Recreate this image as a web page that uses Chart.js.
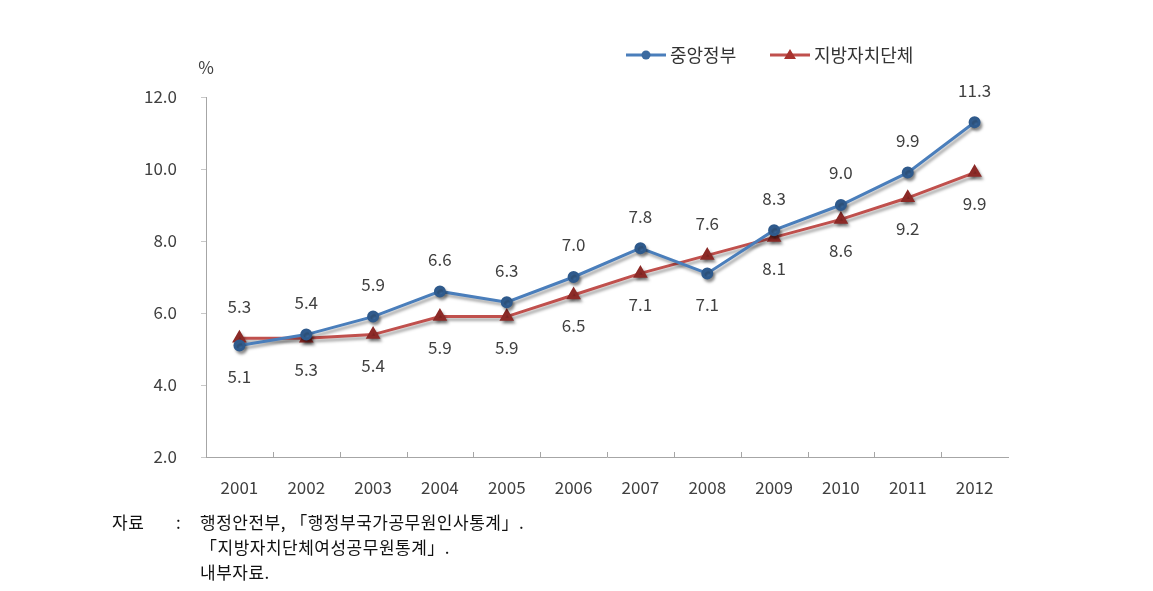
<!DOCTYPE html>
<html>
<head>
<meta charset="utf-8">
<script src="https://cdn.jsdelivr.net/npm/chart.js@4"></script>
<style>
  body { margin: 0; background: #fff; }
  #wrap { position: relative; width: 1153px; height: 591px; }
  #grafica { position: absolute; left: 0; top: 0; }
  .nota { position: absolute; font-family: "Noto Sans CJK KR", sans-serif; font-size: 17px; color: #111; line-height: 25px; letter-spacing: 0.5px; }
</style>
</head>
<body>
<div id="wrap">
  <canvas id="grafica" width="1153" height="591"></canvas>
  <div class="nota" style="left:112px; top:509px;">자료</div>
  <div class="nota" style="left:176px; top:509px;">:</div>
  <div class="nota" style="left:200px; top:509px;">행정안전부, 「행정부국가공무원인사통계」.<br>「지방자치단체여성공무원통계」.<br>내부자료.</div>
</div>
<script>
// datos del gráfico
const anios = ['2001', '2002', '2003', '2004', '2005', '2006', '2007', '2008', '2009', '2010', '2011', '2012'];
const centralGov = [5.1, 5.4, 5.9, 6.6, 6.3, 7.0, 7.8, 7.1, 8.3, 9.0, 9.9, 11.3];
const localGov = [5.3, 5.3, 5.4, 5.9, 5.9, 6.5, 7.1, 7.6, 8.1, 8.6, 9.2, 9.9];
// posición de la etiqueta: true = arriba
const centralArriba = [false, true, true, true, true, true, true, false, true, true, true, true];
const localArriba = [true, false, false, false, false, false, false, true, false, false, false, false];
const yTicks = [2, 4, 6, 8, 10, 12];

const fuente = '"Noto Sans CJK KR", "Noto Sans", sans-serif';

// sombra de las líneas
const sombra = {
    id: 'sombra',
    beforeDatasetsDraw(chart) {
        const ctx = chart.ctx;
        ctx.save();
        ctx.shadowColor = 'rgba(0,0,0,0.35)';
        ctx.shadowBlur = 3;
        ctx.shadowOffsetX = 2;
        ctx.shadowOffsetY = 3;
    },
    afterDatasetsDraw(chart) {
        chart.ctx.restore();
    }
};

// etiquetas, leyenda, "%" y marcas del eje x
const extras = {
    id: 'extras',
    afterDraw(chart) {
        const ctx = chart.ctx;
        const x = chart.scales.x;
        const y = chart.scales.y;
        ctx.save();

        // marcas del eje x hacia dentro
        ctx.strokeStyle = '#a6a6a6';
        ctx.lineWidth = 1;
        for (let i = 1; i < anios.length; i++) {
            const px = Math.round((x.getPixelForValue(i - 1) + x.getPixelForValue(i)) / 2) + 0.5;
            ctx.beginPath();
            ctx.moveTo(px, y.bottom);
            ctx.lineTo(px, y.bottom - 5);
            ctx.stroke();
        }

        // etiquetas de datos
        ctx.font = '17px ' + fuente;
        ctx.fillStyle = '#404040';
        ctx.textAlign = 'center';
        ctx.textBaseline = 'middle';
        const series = [[centralGov, centralArriba], [localGov, localArriba]];
        series.forEach(([vals, arriba]) => {
            vals.forEach((v, i) => {
                const px = x.getPixelForValue(i);
                const py = y.getPixelForValue(v);
                ctx.fillText(v.toFixed(1), px, arriba[i] ? py - 32 : py + 31);
            });
        });

        // "%"
        ctx.fillText('%', y.right, 68);

        // leyenda
        const items = [
            { text: '중앙정부', ds: chart.data.datasets[0], x0: 626 },
            { text: '지방자치단체', ds: chart.data.datasets[1], x0: 770 }
        ];
        const ly = 55;
        items.forEach(it => {
            ctx.strokeStyle = it.ds.borderColor;
            ctx.lineWidth = 3;
            ctx.beginPath();
            ctx.moveTo(it.x0, ly);
            ctx.lineTo(it.x0 + 40, ly);
            ctx.stroke();
            ctx.fillStyle = it.ds.pointBackgroundColor;
            ctx.beginPath();
            if (it.ds.pointStyle === 'triangle') {
                ctx.moveTo(it.x0 + 20, ly - 6);
                ctx.lineTo(it.x0 + 26, ly + 4);
                ctx.lineTo(it.x0 + 14, ly + 4);
                ctx.closePath();
            } else {
                ctx.arc(it.x0 + 20, ly, 4.5, 0, Math.PI * 2);
            }
            ctx.fill();
            ctx.fillStyle = '#333';
            ctx.textAlign = 'left';
            ctx.font = '18px ' + fuente;
            ctx.fillText(it.text, it.x0 + 44, ly);
        });
        ctx.restore();
    }
};

const ctx = document.getElementById('grafica').getContext('2d');
const miGrafica = new Chart(ctx, {
    type: 'line',
    data: {
        labels: anios,
        datasets: [{
            label: '중앙정부',
            data: centralGov,
            borderColor: '#4a7ebb',
            backgroundColor: '#4a7ebb',
            pointBackgroundColor: '#3b6aa0',
            pointBorderColor: '#2f5a8c',
            pointStyle: 'circle',
            pointRadius: 4.5,
            borderWidth: 3,
            tension: 0
        }, {
            label: '지방자치단체',
            data: localGov,
            borderColor: '#c0504d',
            backgroundColor: '#c0504d',
            pointBackgroundColor: '#a8332f',
            pointBorderColor: '#8c2a27',
            pointStyle: 'triangle',
            pointRadius: 5.5,
            borderWidth: 3,
            tension: 0
        }]
    },
    options: {
        responsive: false,
        animation: false,
        layout: { padding: { left: 100, right: 145, top: 97, bottom: 74 } },
        plugins: {
            legend: { display: false },
            tooltip: { enabled: false }
        },
        scales: {
            x: {
                offset: true,
                afterFit: s => { s.height = 60; },
                grid: { display: false, offset: true },
                border: { color: '#a6a6a6', width: 1 },
                ticks: { color: '#404040', font: { family: fuente, size: 17 }, padding: 12 }
            },
            y: {
                min: 2,
                max: 12,
                afterFit: s => { s.width = 106; },
                afterBuildTicks: s => { s.ticks = yTicks.map(v => ({ value: v })); },
                grid: { drawOnChartArea: false, tickLength: 5, color: '#c8c8c8' },
                border: { color: '#a6a6a6', width: 1 },
                ticks: {
                    color: '#404040',
                    font: { family: fuente, size: 17 },
                    padding: 24,
                    callback: v => v.toFixed(1)
                }
            }
        }
    },
    plugins: [sombra, extras]
});
</script>
</body>
</html>
